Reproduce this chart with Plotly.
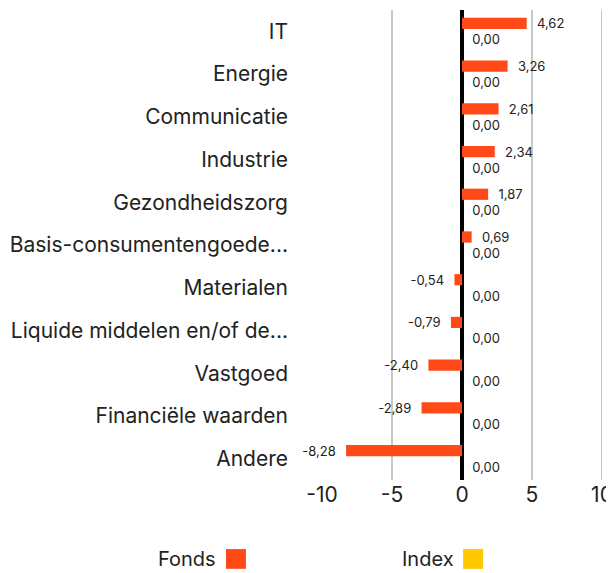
import plotly.graph_objects as go

categories = ["IT", "Energie", "Communicatie", "Industrie", "Gezondheidszorg",
              "Basis-consumentengoede...", "Materialen", "Liquide middelen en/of de...",
              "Vastgoed", "Financiële waarden", "Andere"]
fonds = [4.62, 3.26, 2.61, 2.34, 1.87, 0.69, -0.54, -0.79, -2.40, -2.89, -8.28]
index_vals = [0.00] * 11
series_names = ["Fonds", "Index"]
x_ticks = [-10, -5, 0, 5, 10]
x_tick_text = ["-10", "-5", "0", "5", "10"]
grid_vals = [-5, 5, 10]

FONT = "Inter, Roboto, Arial, sans-serif"
colors = ["#FF4A17", "#FFC800"]

fig = go.Figure()
for name, vals, col in zip(series_names, [fonds, index_vals], colors):
    fig.add_trace(go.Bar(
        y=categories, x=vals, orientation="h", name=name,
        marker=dict(color=col, line=dict(width=0)),
        texttemplate="\u00a0\u00a0%{x:.2f}\u00a0\u00a0", textposition="outside",
        constraintext="none",
        textfont=dict(family=FONT, size=13, color="#222222"),
        cliponaxis=False, showlegend=False,
    ))

shapes = []
for g in grid_vals:
    shapes.append(dict(type="line", xref="x", yref="paper", x0=g, x1=g, y0=0, y1=1,
                       line=dict(color="#c8c8c8", width=2), layer="below"))

# custom legend: text then square
legend_pos = [(-0.371, -0.343), (0.479, 0.504)]
annotations = []
for name, col, (tx, sx) in zip(series_names, colors, legend_pos):
    annotations.append(dict(text=name, xref="paper", yref="paper", x=tx, y=-0.168,
                            xanchor="right", yanchor="middle", showarrow=False,
                            font=dict(family=FONT, size=20, color="#222222")))
    shapes.append(dict(type="rect", xref="paper", yref="paper", x0=sx, x1=sx + 0.0714,
                       y0=-0.147, y1=-0.189, fillcolor=col, line=dict(width=0)))

# page body keeps its 8px margin; the figure fills the rest of the window
fig.update_layout(
    width=614, height=565,
    margin=dict(l=314, r=20, t=2, b=93),
    paper_bgcolor="white", plot_bgcolor="white",
    barmode="group", bargap=0.25, bargroupgap=0.3,
    separators=",.",
    font=dict(family=FONT, color="#222222"),
    shapes=shapes, annotations=annotations,
    xaxis=dict(range=[-10, 10], tickvals=x_ticks, ticktext=x_tick_text, showgrid=False,
               zeroline=True, zerolinecolor="black", zerolinewidth=4,
               tickfont=dict(family=FONT, size=21, color="#222222"),
               ticks="", showline=False, fixedrange=True),
    yaxis=dict(autorange="reversed", showgrid=False, ticks="",
               ticklabelstandoff=33,
               tickfont=dict(family=FONT, size=21, color="#222222")),
)

fig.write_html("out.html",
               config={"responsive": False, "displayModeBar": False},
               post_script="document.documentElement.style.overflow='hidden';document.body.style.overflow='hidden';")
